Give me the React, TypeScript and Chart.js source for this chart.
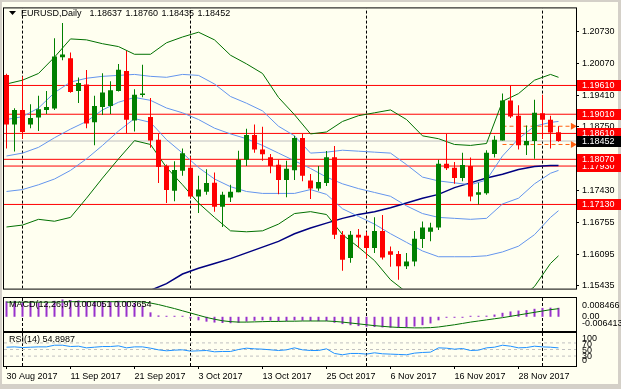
import React, { useEffect, useRef } from 'react';
import { Chart, registerables } from 'chart.js';

Chart.register(...registerables);

// ---------------- data ----------------
const symbolTitle = 'EURUSD,Daily';
const dateLabels = ['30 Aug 2017', '11 Sep 2017', '21 Sep 2017', '3 Oct 2017', '13 Oct 2017', '25 Oct 2017', '6 Nov 2017', '16 Nov 2017', '28 Nov 2017'];
const dateLabelBars = [0, 8, 16, 24, 32, 40, 48, 56, 64];
const monthStartBars = [2, 23, 45, 67];

const opens = [1.19830, 1.18796, 1.19096, 1.18796, 1.18942, 1.19096, 1.19130, 1.20196, 1.20176, 1.19496,
  1.19630, 1.18842, 1.19162, 1.19182, 1.19496, 1.19910, 1.18882, 1.19410, 1.18950, 1.18476,
  1.17930, 1.17416, 1.17830, 1.17896, 1.17296, 1.17396, 1.17582, 1.17082, 1.17276, 1.17382,
  1.18062, 1.18576, 1.18276, 1.18116, 1.17956, 1.17642, 1.17842, 1.18516, 1.17630, 1.17462,
  1.17576, 1.18116, 1.16496, 1.16016, 1.16496, 1.16476, 1.16222, 1.16576, 1.16156, 1.16096,
  1.15842, 1.15942, 1.16410, 1.16562, 1.16650, 1.17976, 1.17896, 1.17682, 1.17930, 1.17330,
  1.17362, 1.18182, 1.18462, 1.19296, 1.18976, 1.18362, 1.18450, 1.19030, 1.18896, 1.18637];
const highs = [1.19856, 1.19136, 1.19796, 1.19216, 1.19396, 1.19496, 1.20596, 1.20910, 1.20296, 1.19776,
  1.19930, 1.19396, 1.19862, 1.19696, 1.20056, 1.20330, 1.19530, 1.20042, 1.19350, 1.18596,
  1.17962, 1.18030, 1.18296, 1.18130, 1.17730, 1.17862, 1.17796, 1.17396, 1.17542, 1.18250,
  1.18710, 1.18796, 1.18750, 1.18182, 1.18062, 1.18042, 1.18562, 1.18596, 1.17762, 1.17930,
  1.18242, 1.18350, 1.16576, 1.16576, 1.16616, 1.16562, 1.16862, 1.16910, 1.16256, 1.16162,
  1.16116, 1.16576, 1.16776, 1.16750, 1.18062, 1.18596, 1.18016, 1.18210, 1.18110, 1.17582,
  1.18262, 1.18562, 1.19442, 1.19610, 1.19196, 1.18776, 1.19310, 1.19416, 1.18976, 1.18760];
const lows = [1.18296, 1.18236, 1.18496, 1.18716, 1.18662, 1.19016, 1.19096, 1.20136, 1.19456, 1.19242,
  1.18716, 1.18362, 1.18996, 1.19016, 1.19482, 1.18616, 1.18650, 1.19362, 1.18310, 1.17576,
  1.17162, 1.17196, 1.17730, 1.17262, 1.16950, 1.17330, 1.16976, 1.16662, 1.17182, 1.17382,
  1.17930, 1.18210, 1.18042, 1.17782, 1.17342, 1.17282, 1.17642, 1.17616, 1.17242, 1.17416,
  1.17516, 1.16410, 1.15750, 1.15916, 1.16230, 1.16016, 1.16116, 1.15982, 1.15830, 1.15562,
  1.15782, 1.15842, 1.16222, 1.16362, 1.16596, 1.17850, 1.17562, 1.17616, 1.17196, 1.17130,
  1.17330, 1.18110, 1.18462, 1.18930, 1.18276, 1.18162, 1.18082, 1.18496, 1.18296, 1.18435];
const closes = [1.18796, 1.19096, 1.18642, 1.18930, 1.19116, 1.19162, 1.20216, 1.20256, 1.19476, 1.19662,
  1.18816, 1.19182, 1.19462, 1.19510, 1.19936, 1.18896, 1.19416, 1.19442, 1.18462, 1.17910,
  1.17430, 1.17850, 1.18196, 1.17296, 1.17442, 1.17576, 1.17082, 1.17330, 1.17396, 1.18062,
  1.18576, 1.18276, 1.18176, 1.17930, 1.17642, 1.17876, 1.18516, 1.17730, 1.17462, 1.17596,
  1.18116, 1.16496, 1.15976, 1.16496, 1.16442, 1.16222, 1.16576, 1.16022, 1.16082, 1.15842,
  1.15942, 1.16416, 1.16650, 1.16650, 1.17976, 1.17882, 1.17682, 1.17950, 1.17296, 1.17382,
  1.18210, 1.18476, 1.19296, 1.18962, 1.18362, 1.18450, 1.19042, 1.18896, 1.18630, 1.18452];

const bandBars = [0, 2, 4, 6, 8, 10, 12, 14, 16, 18, 20, 22, 24, 26, 28, 30, 32, 34, 36, 38, 40, 42, 44, 46, 48, 50, 52, 54, 56, 58, 60, 62, 64, 66, 68, 69];
const bbUpper2 = [1.1964, 1.1972, 1.1986, 1.2020, 1.2058, 1.2056, 1.2048, 1.2042, 1.2026, 1.2026, 1.2050, 1.2062, 1.2072, 1.2056, 1.2024, 1.2006, 1.1986, 1.1936, 1.1900, 1.1860, 1.1864, 1.1886, 1.1898, 1.1904, 1.1910, 1.1890, 1.1856, 1.1850, 1.1838, 1.1836, 1.1840, 1.1928, 1.1944, 1.1972, 1.1984, 1.1978];
const bbUpper1 = [1.1890, 1.1896, 1.1914, 1.1946, 1.1968, 1.1976, 1.1980, 1.1982, 1.1984, 1.1980, 1.1978, 1.1984, 1.1982, 1.1964, 1.1938, 1.1924, 1.1908, 1.1876, 1.1856, 1.1820, 1.1822, 1.1826, 1.1824, 1.1822, 1.1820, 1.1796, 1.1770, 1.1762, 1.1758, 1.1754, 1.1764, 1.1814, 1.1850, 1.1876, 1.1884, 1.1886];
const bbMiddle = [1.1814, 1.1820, 1.1832, 1.1852, 1.1870, 1.1886, 1.1910, 1.1926, 1.1936, 1.1930, 1.1914, 1.1904, 1.1890, 1.1872, 1.1860, 1.1850, 1.1836, 1.1820, 1.1804, 1.1788, 1.1770, 1.1756, 1.1746, 1.1738, 1.1730, 1.1710, 1.1694, 1.1686, 1.1684, 1.1682, 1.1684, 1.1714, 1.1726, 1.1756, 1.1778, 1.1784];
const bbLower1 = [1.1740, 1.1744, 1.1754, 1.1766, 1.1784, 1.1808, 1.1836, 1.1866, 1.1892, 1.1884, 1.1848, 1.1820, 1.1790, 1.1766, 1.1750, 1.1740, 1.1736, 1.1736, 1.1736, 1.1744, 1.1734, 1.1704, 1.1688, 1.1672, 1.1652, 1.1634, 1.1616, 1.1604, 1.1604, 1.1604, 1.1606, 1.1614, 1.1626, 1.1650, 1.1686, 1.1700];
const bbLower2 = [1.1666, 1.1670, 1.1682, 1.1678, 1.1686, 1.1726, 1.1768, 1.1808, 1.1846, 1.1838, 1.1790, 1.1754, 1.1716, 1.1686, 1.1658, 1.1656, 1.1658, 1.1672, 1.1694, 1.1698, 1.1692, 1.1650, 1.1624, 1.1596, 1.1556, 1.1530, 1.1526, 1.1526, 1.1526, 1.1526, 1.1524, 1.1502, 1.1514, 1.1542, 1.1590, 1.1606];

const maBars = [16, 18, 20, 22, 24, 26, 28, 30, 32, 34, 36, 38, 40, 42, 44, 46, 48, 50, 52, 54, 56, 58, 60, 62, 64, 66, 68, 69];
const maValues = [1.1522, 1.1534, 1.1548, 1.1568, 1.1580, 1.1590, 1.1600, 1.1612, 1.1624, 1.1636, 1.1652, 1.1664, 1.1674, 1.1684, 1.1692, 1.1698, 1.1706, 1.1716, 1.1726, 1.1734, 1.1748, 1.1758, 1.1768, 1.1776, 1.1786, 1.1792, 1.1794, 1.1794];

const levelPrices = [1.19610, 1.19010, 1.18610, 1.18070, 1.17930, 1.17130];
const bidPrice = 1.18452;
const rayPrices = [1.18760, 1.18380];
const rayBars = [62, 70.8];
const priceTicks = [1.20730, 1.20070, 1.19410, 1.18750, 1.18090, 1.17430, 1.16755, 1.16095, 1.15435];
const priceMin = 1.15376;
const priceMax = 1.21216;

const macdTitle = 'MACD(12,26,9)';
const macdMain = [0.0070, 0.0072, 0.0068, 0.0066, 0.0065, 0.0064, 0.0072, 0.0078, 0.0075, 0.0074,
  0.0068, 0.0067, 0.0068, 0.0069, 0.0072, 0.0066, 0.0062, 0.0050, 0.0020, 0.0006,
  0.0002, 0.0001, 0.0001, -0.0008, -0.0016, -0.0022, -0.0026, -0.0028, -0.0029, -0.0027,
  -0.0022, -0.0018, -0.0016, -0.0017, -0.0019, -0.0020, -0.0016, -0.0017, -0.0019, -0.0020,
  -0.0019, -0.0027, -0.0033, -0.0038, -0.0042, -0.0045, -0.0046, -0.0048, -0.0049, -0.0050,
  -0.0048, -0.0044, -0.0038, -0.0030, -0.0016, -0.0004, -0.0002, -0.0001, 0.0001, 0.0002,
  0.0005, 0.0010, 0.0018, 0.0024, 0.0028, 0.0030, 0.0036, 0.0040, 0.0041, 0.004051];
const macdSignal = [0.0066, 0.0066, 0.0066, 0.0066, 0.0066, 0.0066, 0.0066, 0.0067, 0.0068, 0.0068,
  0.0068, 0.0068, 0.0068, 0.0068, 0.0068, 0.0068, 0.0068, 0.0067, 0.0062, 0.0055,
  0.0046, 0.0037, 0.0027, 0.0017, 0.0007, -0.0003, -0.0011, -0.0018, -0.0022, -0.0024,
  -0.0024, -0.0023, -0.0022, -0.0021, -0.0021, -0.0020, -0.0020, -0.0019, -0.0019, -0.0019,
  -0.0019, -0.0021, -0.0024, -0.0028, -0.0032, -0.0036, -0.0040, -0.0043, -0.0046, -0.0048,
  -0.0049, -0.0050, -0.0050, -0.0049, -0.0046, -0.0041, -0.0036, -0.0030, -0.0024, -0.0019,
  -0.0014, -0.0009, -0.0004, 0.0002, 0.0008, 0.0014, 0.0020, 0.0026, 0.0032, 0.003654];
const macdMax = 0.008466;
const macdMin = -0.006413;
const macdAxisLabels = ['0.008466', '0.00', '-0.006413'];

const rsiTitle = 'RSI(14)';
const rsiValues = [57, 58, 56, 57, 58, 58, 63, 63, 59, 60, 55, 57, 59, 59, 61, 55, 58, 58, 54, 49,
  46, 48, 49, 45, 46, 47, 43, 44, 44, 50, 54, 52, 51, 49, 47, 49, 55, 49, 47, 47,
  52, 38, 34, 38, 38, 36, 40, 37, 36, 35, 34, 39, 41, 42, 55, 54, 51, 53, 47, 48,
  55, 57, 63, 60, 55, 56, 60, 58, 57, 54.8987];
const rsiLevels = [70, 50, 30];
const rsiAxisLabels = ['100', '70', '50', '30', '0'];

// ---------------- helpers ----------------
const FONT = '"Liberation Sans", Arial, sans-serif';
const X_MIN = -0.3125;
const X_MAX = 71.1875;
const CREAM = '#fffff0';

const xHidden: any = { type: 'linear', min: X_MIN, max: X_MAX, display: false, offset: false, grid: { display: false } };

function lineDs(data: any[], color: string, width = 1, extra: any = {}) {
  return { type: 'line', data, borderColor: color, backgroundColor: color, borderWidth: width, pointRadius: 0, fill: false, tension: 0, order: 5, ...extra };
}

function separators(yMin: number, yMax: number) {
  return monthStartBars.map((b) => lineDs([{ x: b, y: yMin }, { x: b, y: yMax }], '#000000', 1, { borderDash: [3, 2], order: 9 }));
}

function framePlugin(draw?: (chart: any) => void) {
  return {
    id: 'frame',
    afterDraw(chart: any) {
      const { ctx, chartArea } = chart;
      ctx.save();
      ctx.strokeStyle = '#000000';
      ctx.lineWidth = 1;
      ctx.strokeRect(chartArea.left - 0.5, chartArea.top - 0.5, chartArea.right - chartArea.left + 1, chartArea.bottom - chartArea.top + 1);
      if (draw) draw(chart);
      ctx.restore();
    },
  };
}

const baseOptions = (padding: any) => ({
  responsive: false,
  animation: false,
  devicePixelRatio: 1,
  events: [],
  layout: { padding },
  plugins: { legend: { display: false }, tooltip: { enabled: false }, title: { display: false } },
});

export default function App() {
  const mainRef = useRef<HTMLCanvasElement>(null);
  const macdRef = useRef<HTMLCanvasElement>(null);
  const rsiRef = useRef<HTMLCanvasElement>(null);

  useEffect(() => {
    document.body.style.margin = '0';
    const charts: Chart[] = [];

    // ---------- main price chart ----------
    const candleColors = opens.map((o, i) => (closes[i] >= o ? '#008000' : '#ff0000'));
    const wicks = highs.map((h, i) => ({ x: i, y: [lows[i], h] }));
    const bodies = opens.map((o, i) => ({ x: i, y: [Math.min(o, closes[i]), Math.max(o, closes[i])] }));
    const band = (vals: number[]) => vals.map((v, k) => ({ x: bandBars[k], y: v }));

    const mainDatasets: any[] = [
      { type: 'bar', data: wicks, backgroundColor: candleColors, borderWidth: 0, barThickness: 1, grouped: false, inflateAmount: 0, order: 1 },
      { type: 'bar', data: bodies, backgroundColor: candleColors, borderWidth: 0, barThickness: 5, grouped: false, inflateAmount: 0, minBarLength: 1, order: 0 },
      lineDs(band(bbUpper2), '#007000'),
      lineDs(band(bbLower2), '#007000'),
      lineDs(band(bbUpper1), '#6495ed'),
      lineDs(band(bbMiddle), '#6495ed'),
      lineDs(band(bbLower1), '#6495ed'),
      lineDs(maValues.map((v, k) => ({ x: maBars[k], y: v })), '#000080', 1.5),
      ...levelPrices.map((p) => lineDs([{ x: X_MIN, y: p }, { x: X_MAX, y: p }], '#ff0000', 1, { order: 7 })),
      lineDs([{ x: X_MIN, y: bidPrice }, { x: X_MAX, y: bidPrice }], '#c0c0c0', 1, { order: 8 }),
      ...rayPrices.map((p) => lineDs([{ x: rayBars[0], y: p }, { x: rayBars[1], y: p }], '#ff6010', 1, {
        borderDash: [4, 3], order: 3, pointRadius: [0, 4], pointStyle: 'triangle', rotation: 90,
        pointBackgroundColor: '#ff6010', pointBorderWidth: 0,
      })),
      ...separators(priceMin, priceMax),
    ];

    const mainChart = new Chart(mainRef.current as HTMLCanvasElement, {
      type: 'bar',
      data: { datasets: mainDatasets },
      options: {
        ...baseOptions({ left: 4, top: 4, right: 0, bottom: 1 }),
        scales: {
          x: xHidden,
          y: {
            type: 'linear', position: 'right', min: priceMin, max: priceMax,
            afterBuildTicks: (s: any) => { s.ticks = priceTicks.map((v) => ({ value: v })); },
            afterFit: (s: any) => { s.width = 45; },
            ticks: { callback: (v: any) => Number(v).toFixed(5), font: { family: FONT, size: 9 }, color: '#000000', padding: 3, autoSkip: false },
            grid: { drawOnChartArea: false, drawTicks: true, tickLength: 3, color: '#000000' },
            border: { display: false },
          },
        },
      } as any,
      plugins: [framePlugin((chart) => {
        const { ctx } = chart;
        const ys = chart.scales.y;
        // title
        ctx.fillStyle = '#000000';
        ctx.beginPath();
        ctx.moveTo(9, 11); ctx.lineTo(16, 11); ctx.lineTo(12.5, 15); ctx.closePath(); ctx.fill();
        ctx.font = `9px ${FONT}`;
        ctx.textBaseline = 'alphabetic';
        ctx.textAlign = 'left';
        ctx.fillText(symbolTitle, 21, 16);
        const n = opens.length - 1;
        const ohlc = [opens[n], highs[n], lows[n], closes[n]].map((v) => v.toFixed(5));
        let tx = 21 + ctx.measureText(symbolTitle).width + 8;
        ohlc.forEach((s) => { ctx.fillText(s, tx, 16); tx += ctx.measureText(s).width + 3.5; });
        // price boxes
        const boxes = [...levelPrices].sort((a, b) => a - b);
        ctx.textBaseline = 'middle';
        boxes.forEach((p) => {
          const y = Math.round(ys.getPixelForValue(p));
          ctx.fillStyle = '#ff0000';
          ctx.fillRect(577, y - 5, 44, 11);
          ctx.fillStyle = '#ffffff';
          ctx.fillText(p.toFixed(5), 582, y + 0.5);
        });
        const yb = Math.round(ys.getPixelForValue(bidPrice));
        ctx.fillStyle = '#000000';
        ctx.fillRect(577, yb - 5, 44, 11);
        ctx.fillStyle = '#ffffff';
        ctx.fillText(bidPrice.toFixed(5), 582, yb + 0.5);
      })],
    });
    charts.push(mainChart);

    // ---------- MACD ----------
    const macdChart = new Chart(macdRef.current as HTMLCanvasElement, {
      type: 'bar',
      data: {
        datasets: [
          { type: 'bar', data: macdMain.map((v, i) => ({ x: i, y: v })), backgroundColor: '#9932cc', borderWidth: 0, barThickness: 2, grouped: false, inflateAmount: 0, minBarLength: 1, order: 1 },
          lineDs(macdSignal.map((v, i) => ({ x: i, y: v })), '#007000', 1, { order: 0 }),
          ...separators(macdMin, macdMax),
        ] as any,
      },
      options: {
        ...baseOptions({ left: 4, top: 1, right: 45, bottom: 1 }),
        scales: { x: xHidden, y: { type: 'linear', display: false, min: macdMin, max: macdMax } },
      } as any,
      plugins: [framePlugin((chart) => {
        const { ctx, chartArea } = chart;
        const ys = chart.scales.y;
        ctx.fillStyle = '#000000';
        ctx.font = `9px ${FONT}`;
        ctx.textAlign = 'left';
        ctx.textBaseline = 'middle';
        const n = macdMain.length - 1;
        ctx.fillText(`${macdTitle} ${macdMain[n].toFixed(6)} ${macdSignal[n].toFixed(6)}`, 9, chartArea.top + 7);
        ctx.fillText(macdAxisLabels[0], 582, ys.getPixelForValue(macdMax) + 8);
        ctx.fillText(macdAxisLabels[1], 582, ys.getPixelForValue(0));
        ctx.fillText(macdAxisLabels[2], 582, ys.getPixelForValue(macdMin) - 7);
      })],
    });
    charts.push(macdChart);

    // ---------- RSI ----------
    const rsiChart = new Chart(rsiRef.current as HTMLCanvasElement, {
      type: 'line',
      data: {
        datasets: [
          lineDs(rsiValues.map((v, i) => ({ x: i, y: v })), '#1e90ff', 1, { order: 0 }),
          ...rsiLevels.map((l) => lineDs([{ x: X_MIN, y: l }, { x: X_MAX, y: l }], '#c0c0c0', 1, { borderDash: [3, 3], order: 6 })),
          ...separators(0, 100),
        ] as any,
      },
      options: {
        ...baseOptions({ left: 4, top: 1, right: 45, bottom: 0 }),
        scales: {
          x: {
            type: 'linear', min: X_MIN, max: X_MAX, offset: false, position: 'bottom',
            afterBuildTicks: (s: any) => { s.ticks = dateLabelBars.map((v) => ({ value: v })); },
            afterFit: (s: any) => { s.height = 23; },
            ticks: {
              callback: (v: any) => dateLabels[dateLabelBars.indexOf(Number(v))] ?? '',
              font: { family: FONT, size: 9 }, color: '#000000', align: 'start', padding: 2, maxRotation: 0, autoSkip: false,
            },
            grid: { drawOnChartArea: false, drawTicks: true, tickLength: 3, color: '#000000' },
            border: { display: false },
          },
          y: { type: 'linear', display: false, min: 0, max: 100 },
        },
      } as any,
      plugins: [framePlugin((chart) => {
        const { ctx, chartArea } = chart;
        const ys = chart.scales.y;
        ctx.fillStyle = '#000000';
        ctx.font = `9px ${FONT}`;
        ctx.textAlign = 'left';
        ctx.textBaseline = 'middle';
        const n = rsiValues.length - 1;
        ctx.fillText(`${rsiTitle} ${rsiValues[n].toFixed(4)}`, 9, chartArea.top + 7);
        ctx.fillText(rsiAxisLabels[0], 582, ys.getPixelForValue(100) + 6);
        ctx.fillText(rsiAxisLabels[1], 582, ys.getPixelForValue(70) + 2);
        ctx.fillText(rsiAxisLabels[2], 582, ys.getPixelForValue(50) + 1);
        ctx.fillText(rsiAxisLabels[3], 582, ys.getPixelForValue(30));
        ctx.fillText(rsiAxisLabels[4], 582, ys.getPixelForValue(0) - 5);
      })],
    });
    charts.push(rsiChart);

    return () => charts.forEach((c) => c.destroy());
  }, []);

  return (
    <div style={{ position: 'fixed', left: 0, top: 0, width: 621, height: 389, background: '#d4d0c8', overflow: 'hidden' }}>
      <div style={{ position: 'absolute', left: 2, top: 2, width: 616, height: 382, background: CREAM }} />
      <canvas ref={mainRef} width={621} height={297} style={{ position: 'absolute', left: 0, top: 0, width: 621, height: 297 }} />
      <canvas ref={macdRef} width={621} height={35} style={{ position: 'absolute', left: 0, top: 297, width: 621, height: 35 }} />
      <canvas ref={rsiRef} width={621} height={57} style={{ position: 'absolute', left: 0, top: 332, width: 621, height: 57 }} />
    </div>
  );
}
